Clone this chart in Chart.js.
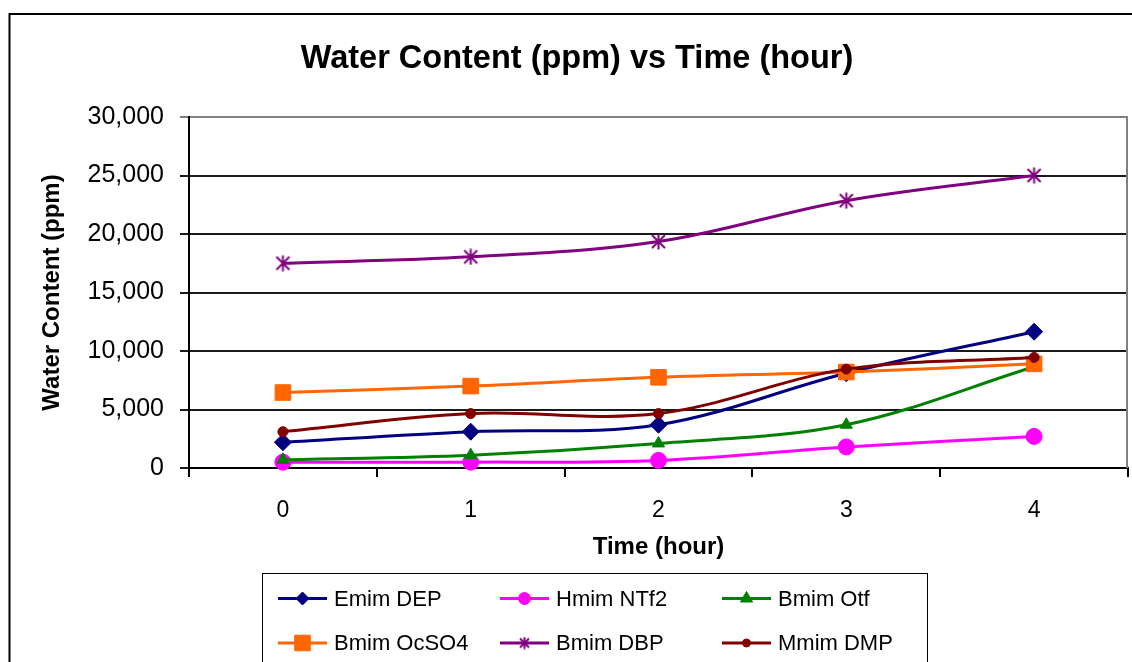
<!DOCTYPE html>
<html><head><meta charset="utf-8">
<script src="https://cdn.jsdelivr.net/npm/chart.js@4/dist/chart.umd.min.js"></script>
<style>html,body{margin:0;padding:0;background:#fff;}#wrap{width:1132px;height:662px;}</style>
</head><body><div id="wrap"><canvas id="c" width="1132" height="662"></canvas></div>
<script>
const categories = ['0', '1', '2', '3', '4'];
const seriesNames = ['Emim DEP', 'Hmim NTf2', 'Bmim Otf', 'Bmim OcSO4', 'Bmim DBP', 'Mmim DMP'];
const emimDEP   = [2200, 3100, 3700, 8100, 11650];
const hmimNTf2  = [500, 500, 650, 1800, 2700];
const bmimOtf   = [700, 1100, 2100, 3700, 8650];
const bmimOcSO4 = [6450, 7000, 7750, 8200, 8900];
const bmimDBP   = [17500, 18050, 19350, 22850, 25000];
const mmimDMP   = [3100, 4650, 4650, 8450, 9450];
const yMin = 0, yMax = 30000, yStep = 5000;

const FONT = "'Liberation Sans', Arial, sans-serif";
const seriesValues = [emimDEP, hmimNTf2, bmimOtf, bmimOcSO4, bmimDBP, mmimDMP];
const seriesColors = ['#000080', '#FF00FF', '#008000', '#FF6600', '#800080', '#800000'];

function starMarker(size, color) {
  const c = document.createElement('canvas');
  c.width = size; c.height = size;
  const g = c.getContext('2d');
  g.strokeStyle = color; g.lineWidth = 2;
  const p = 2, q = size - 2;
  g.beginPath();
  g.moveTo(p, p); g.lineTo(q, q);
  g.moveTo(q, p); g.lineTo(p, q);
  g.moveTo(size / 2, 0.5); g.lineTo(size / 2, size - 0.5);
  g.stroke();
  return c;
}
const starBig = starMarker(17, '#800080');
const starSmall = starMarker(13, '#800080');

const seriesStyles = ['rectRot', 'circle', 'triangle', 'rect', starBig, 'circle'];
const legendStyles = ['rectRot', 'circle', 'triangle', 'rect', starSmall, 'circle'];
const seriesRadius = [8.5, 8, 7, 11, 8, 5];
const legendRadius = [6.5, 6, 7, 11, 6, 4];

const datasets = seriesNames.map((name, i) => ({
  label: name,
  data: seriesValues[i],
  borderColor: seriesColors[i],
  backgroundColor: seriesColors[i],
  pointBackgroundColor: seriesColors[i],
  pointBorderColor: seriesColors[i],
  pointStyle: seriesStyles[i],
  pointRadius: seriesRadius[i],
  pointHoverRadius: seriesRadius[i],
  pointBorderWidth: 1,
  borderWidth: 3,
  tension: 0.35,
  fill: false,
  clip: false,
  order: seriesNames.length - i
}));

const framePlugin = {
  id: 'frame',
  beforeDraw(chart) {
    const ctx = chart.ctx;
    ctx.save();
    ctx.fillStyle = '#fff';
    ctx.fillRect(0, 0, chart.width, chart.height);
    ctx.strokeStyle = '#000';
    ctx.lineWidth = 2;
    ctx.strokeRect(9.5, 14, 1300, 1000);
    ctx.restore();
  },
  beforeDatasetsDraw(chart) {
    const {ctx, chartArea} = chart;
    ctx.save();
    ctx.strokeStyle = '#808080';
    ctx.lineWidth = 2;
    ctx.beginPath();
    ctx.moveTo(chartArea.right - 1, chartArea.top);
    ctx.lineTo(chartArea.right - 1, chartArea.bottom);
    ctx.stroke();
    ctx.restore();
  }
};

const legendPlugin = {
  id: 'boxLegend',
  afterDraw(chart) {
    const ctx = chart.ctx;
    ctx.save();
    ctx.strokeStyle = '#000';
    ctx.lineWidth = 1;
    ctx.strokeRect(262.5, 573.5, 665, 200);
    const colX = [278, 500, 722];
    const rowY = [598.5, 643];
    ctx.font = '22px ' + FONT;
    ctx.textBaseline = 'middle';
    ctx.textAlign = 'left';
    chart.data.datasets.forEach((ds, i) => {
      const x = colX[i % 3], y = rowY[Math.floor(i / 3)];
      ctx.strokeStyle = ds.borderColor;
      ctx.lineWidth = 3;
      ctx.beginPath();
      ctx.moveTo(x, y);
      ctx.lineTo(x + 49, y);
      ctx.stroke();
      ctx.fillStyle = ds.backgroundColor;
      ctx.strokeStyle = ds.borderColor;
      ctx.lineWidth = 1;
      Chart.helpers.drawPoint(ctx, {
        pointStyle: legendStyles[i], rotation: 0,
        radius: legendRadius[i], borderWidth: 1
      }, x + 24.5, y);
      ctx.fillStyle = '#000';
      ctx.fillText(ds.label, x + 56, y + 1);
    });
    ctx.restore();
  }
};

new Chart(document.getElementById('c'), {
  type: 'line',
  data: { labels: categories, datasets },
  plugins: [framePlugin, legendPlugin],
  options: {
    responsive: false,
    animation: false,
    layout: { autoPadding: false, padding: { left: 26, right: 4, top: 0, bottom: 0 } },
    plugins: {
      legend: { display: false },
      tooltip: { enabled: false },
      title: {
        display: true,
        text: 'Water Content (ppm) vs Time (hour)',
        color: '#000',
        font: { family: FONT, size: 32.5, weight: 'bold' },
        padding: { top: 39.5, bottom: 38.5 }
      }
    },
    scales: {
      x: {
        type: 'category',
        offset: true,
        grid: { offset: true, drawOnChartArea: false, drawTicks: true, tickLength: 9, color: '#000', lineWidth: 2 },
        border: { color: '#000', width: 2 },
        ticks: { color: '#000', font: { family: FONT, size: 23 }, padding: 20, maxRotation: 0 },
        title: {
          display: true, text: 'Time (hour)', color: '#000',
          font: { family: FONT, size: 24, weight: 'bold' },
          padding: { top: 0, bottom: 100.6 }
        },
        afterFit(s) { s.height = 194; }
      },
      y: {
        min: yMin, max: yMax,
        ticks: {
          stepSize: yStep, color: '#000', font: { family: FONT, size: 25 }, padding: 16,
          callback: v => Number(v).toLocaleString('en-US')
        },
        grid: {
          color: c => (c.tick && c.tick.value === yMax) ? '#808080' : '#1a1a1a',
          lineWidth: 2, tickLength: 9
        },
        border: { color: '#000', width: 2 },
        title: {
          display: true, text: 'Water Content (ppm)', color: '#000',
          font: { family: FONT, size: 24, weight: 'bold' },
          padding: { top: 11.6, bottom: 0 }
        },
        afterFit(s) { s.width = 163; }
      }
    }
  }
});
</script>
</body></html>
